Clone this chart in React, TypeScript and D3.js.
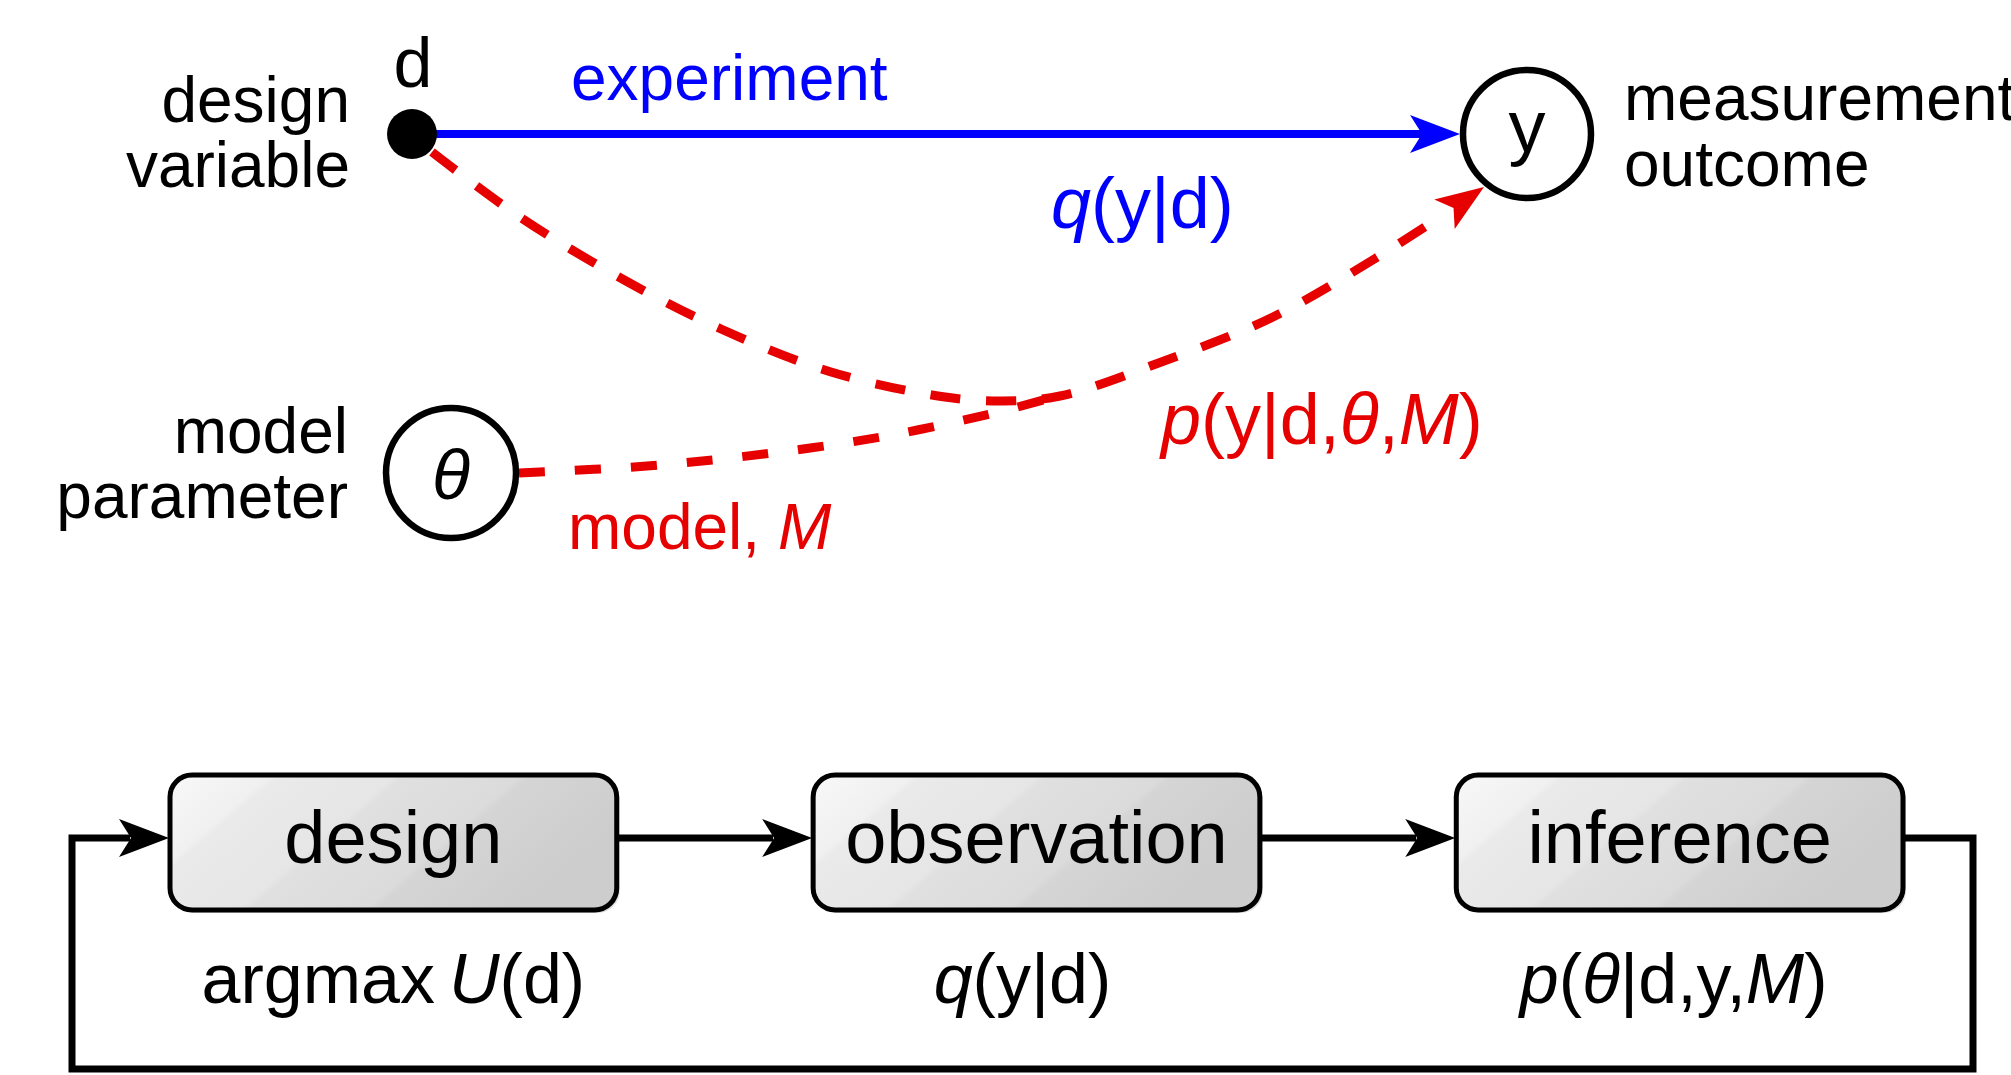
import * as d3 from 'd3';

// --- content ---
const stepNames = ['design', 'observation', 'inference'];
// each formula: [text, italic]
const stepFormulas: [string, boolean][][] = [
  [['argmax\u2009', false], ['U', true], ['(d)', false]],
  [['q', true], ['(y|d)', false]],
  [['p', true], ['(', false], ['θ', true], ['|d,y,', false], ['M', true], [')', false]],
];
const qLabel: [string, boolean][] = [['q', true], ['(y|d)', false]];
const pLabel: [string, boolean][] = [
  ['p', true], ['(y|d,', false], ['θ', true], [',', false], ['M', true], [')', false],
];
const modelLabel: [string, boolean][] = [['model, ', false], ['M', true]];

// red dashed paths (x, y in px)
const dToY: [number, number][] = [
  [432, 152], [517, 215], [617, 276], [721, 329], [831, 372], [945, 397],
  [1003, 401], [1060, 396], [1164, 361], [1273, 317], [1376, 258], [1446, 213],
];
const thetaToJoin: [number, number][] = [
  [519, 473], [647, 466], [764, 454], [881, 437], [994, 413], [1058, 396],
];

const W = 2011;
const H = 1075;
const FONT = '"Liberation Sans", Arial, sans-serif';
const RED = '#e60000';
const BLUE = '#0000ff';

function arrowHead(tip: [number, number], from: [number, number], len = 50, half = 19, notch = 12) {
  const a = Math.atan2(tip[1] - from[1], tip[0] - from[0]);
  const dx = Math.cos(a), dy = Math.sin(a);
  const px = -dy, py = dx;
  const bx = tip[0] - len * dx, by = tip[1] - len * dy;
  const pts = [
    [tip[0], tip[1]],
    [bx + half * px, by + half * py],
    [tip[0] - (len - notch) * dx, tip[1] - (len - notch) * dy],
    [bx - half * px, by - half * py],
  ];
  return 'M' + pts.map((p) => p.join(',')).join('L') + 'Z';
}

function Rich({ parts, ...rest }: { parts: [string, boolean][]; [k: string]: any }) {
  return (
    <text {...rest}>
      {parts.map(([t, it], i) => (
        <tspan key={i} fontStyle={it ? 'italic' : 'normal'} style={{ whiteSpace: 'pre' }}>
          {t}
        </tspan>
      ))}
    </text>
  );
}

export default function App() {
  const line = d3.line().curve(d3.curveCatmullRom.alpha(0.5));

  const x = d3.scaleBand().domain(stepNames).range([170, 1903]).paddingInner(0.3054).paddingOuter(0);
  const boxTop = 775;
  const boxH = 135;
  const flowY = 838;
  const loopX0 = 72;
  const loopX1 = 1973;
  const loopY = 1069;
  const formulaShift = [0, -14, -6];

  const dot: [number, number] = [412, 134];
  const yNode: [number, number] = [1527, 134];
  const thNode: [number, number] = [451, 473];
  const nodeR = 64;

  const redTip: [number, number] = [1484, 187];

  return (
    <div style={{ position: 'absolute', left: 0, top: 0 }}>
      <svg width={W} height={H} style={{ display: 'block', background: '#fff' }} fontFamily={FONT}>
        <defs>
          <linearGradient id="boxg" x1="0" y1="0" x2="1" y2="0.35">
            <stop offset="0" stopColor="#f8f8f8" />
            <stop offset="0.2" stopColor="#f0f0f0" />
            <stop offset="0.22" stopColor="#eaeaea" />
            <stop offset="0.45" stopColor="#e6e6e6" />
            <stop offset="0.47" stopColor="#e0e0e0" />
            <stop offset="0.7" stopColor="#dbdbdb" />
            <stop offset="0.72" stopColor="#d5d5d5" />
            <stop offset="1" stopColor="#cdcdcd" />
          </linearGradient>
        </defs>

        {/* upper graph */}
        <line x1={dot[0]} y1={dot[1]} x2={yNode[0] - nodeR - 40} y2={yNode[1]} stroke={BLUE} strokeWidth={8} />
        <path d={arrowHead([yNode[0] - nodeR - 3, yNode[1]], dot, 50, 19, 12)} fill={BLUE} />

        <path d={line(dToY) || ''} fill="none" stroke={RED} strokeWidth={9} strokeDasharray="30 26" />
        <path d={line(thetaToJoin) || ''} fill="none" stroke={RED} strokeWidth={9} strokeDasharray="26 30" />
        <path d={arrowHead(redTip, [1426, 227], 48, 18, 11)} fill={RED} />

        <circle cx={dot[0]} cy={dot[1]} r={25} fill="#000" />
        <circle cx={yNode[0]} cy={yNode[1]} r={nodeR} fill="#fff" stroke="#000" strokeWidth={6.5} />
        <circle cx={thNode[0]} cy={thNode[1]} r={nodeR + 1} fill="#fff" stroke="#000" strokeWidth={6.5} />

        <text x={413} y={87} fontSize={70} textAnchor="middle">d</text>
        <text x={yNode[0]} y={152} fontSize={74} textAnchor="middle">y</text>
        <text x={thNode[0]} y={499} fontSize={70} textAnchor="middle" fontStyle="italic">θ</text>

        <text x={350} y={122} fontSize={64} textAnchor="end">design</text>
        <text x={350} y={187} fontSize={64} textAnchor="end">variable</text>
        <text x={348} y={453} fontSize={64} textAnchor="end">model</text>
        <text x={348} y={518} fontSize={64} textAnchor="end">parameter</text>
        <text x={1624} y={120} fontSize={64}>measurement</text>
        <text x={1624} y={186} fontSize={64}>outcome</text>

        <text x={571} y={100} fontSize={64} fill={BLUE}>experiment</text>
        <Rich parts={qLabel} x={1051} y={228} fontSize={72} fill={BLUE} />
        <Rich parts={pLabel} x={1161} y={444} fontSize={72} fill={RED} />
        <Rich parts={modelLabel} x={568} y={549} fontSize={64} fill={RED} />

        {/* lower cycle */}
        <path
          d={`M${(x('inference') || 0) + x.bandwidth()},${flowY}H${loopX1}V${loopY}H${loopX0}V${flowY}H${(x('design') || 0) - 40}`}
          fill="none"
          stroke="#000"
          strokeWidth={7}
        />
        <path d={arrowHead([(x('design') || 0) - 1, flowY], [loopX0, flowY])} fill="#000" />
        {stepNames.slice(0, -1).map((s, i) => {
          const x0 = (x(s) || 0) + x.bandwidth();
          const x1 = x(stepNames[i + 1]) || 0;
          return (
            <g key={s}>
              <line x1={x0} y1={flowY} x2={x1 - 40} y2={flowY} stroke="#000" strokeWidth={7} />
              <path d={arrowHead([x1 - 1, flowY], [x0, flowY])} fill="#000" />
            </g>
          );
        })}
        {stepNames.map((s, i) => {
          const bx = x(s) || 0;
          const cx = bx + x.bandwidth() / 2;
          return (
            <g key={s}>
              <rect x={bx + 3} y={boxTop + 3} width={x.bandwidth()} height={boxH} rx={22} fill="#000" opacity={0.12} />
              <rect x={bx} y={boxTop} width={x.bandwidth()} height={boxH} rx={22} fill="url(#boxg)" stroke="#000" strokeWidth={5} />
              <text x={cx} y={863} fontSize={74} textAnchor="middle">{s}</text>
              <Rich parts={stepFormulas[i]} x={cx + formulaShift[i]} y={1003} fontSize={70} textAnchor="middle" />
            </g>
          );
        })}
      </svg>
    </div>
  );
}
